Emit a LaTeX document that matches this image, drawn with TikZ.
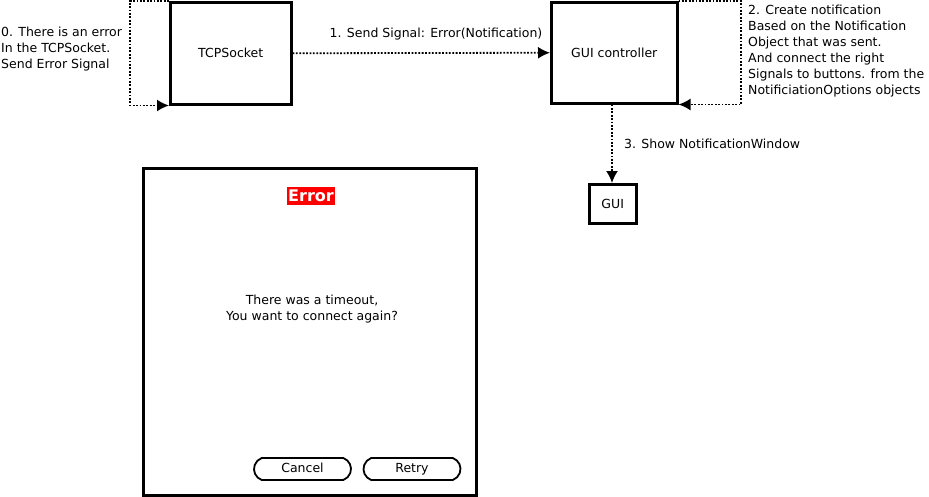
\documentclass[tikz,border=0pt]{standalone}
\usepackage{fontspec}
\setmainfont{DejaVu Sans}
\usetikzlibrary{arrows.meta,shapes.misc}
\begin{document}
\begin{tikzpicture}[x=1pt,y=-1pt,
  font=\fontsize{12.5}{16}\selectfont,
  boxnode/.style={draw,line width=2.5pt,inner sep=0pt,anchor=north west},
  dotline/.style={line width=1.8pt,dash pattern=on 1.8pt off 1.6pt,-{Latex[length=12pt,width=12pt]}},
  txt/.style={inner sep=0pt,align=left},
  btn/.style={draw,line width=1.8pt,rounded rectangle,rounded rectangle arc length=140,minimum width=97pt,minimum height=22pt,inner sep=0pt,text height=9pt,text depth=3pt}]
\useasboundingbox (0,0) rectangle (929,496);
% boxes
\node[boxnode,minimum width=121pt,minimum height=102pt] (tcp) at (169,1) {};
\node at (tcp.center) {TCPSocket};
\node[boxnode,minimum width=126pt,minimum height=101pt] (ctrl) at (550,1) {};
\node at (ctrl.center) {GUI controller};
\node[boxnode,minimum width=47pt,minimum height=39pt] (gui) at (588,183) {};
\node at (gui.center) {GUI};
% self loops
\coordinate (tl) at (130,1);
\draw[dotline] (tcp.north west) -- (tl) |- (tcp.south west);
\coordinate (cr) at (741,1);
\draw[dotline] (ctrl.north east) -- (cr) |- (ctrl.south east);
% arrows
\draw[dotline] (tcp.east) -- (ctrl.east -| ctrl.west);
\draw[dotline] (ctrl.south -| 612,0) -- (gui.north -| 612,0);
% labels
\node[txt,anchor=west] (l0) at (1,49.5) {0. There is an error\\In the TCPSocket.\\Send Error Signal};
\node[txt] (l1) at (436,34) {1. Send Signal: Error(Notification)};
\node[txt,anchor=west] (l2) at (748,51.5) {2. Create notification\\Based on the Notification\\Object that was sent.\\And connect the right\\Signals to buttons. from the\\NotificiationOptions objects};
\node[txt,anchor=west] (l3) at (624,143.5) {3. Show NotificationWindow};
% window
\node[boxnode,minimum width=333pt,minimum height=327pt] (win) at (142,167) {};
\node[fill=red,text=white,font=\fontsize{16}{18}\selectfont\bfseries,inner xsep=1.5pt,inner ysep=3pt] (err) at (311,196) {Error};
\node[align=center] (msg) at (312,309) {There was a timeout,\\You want to connect again?};
\node[btn] (cancel) at (302.5,469) {Cancel};
\node[btn] (retry) at (412,469) {Retry};
\end{tikzpicture}
\end{document}
